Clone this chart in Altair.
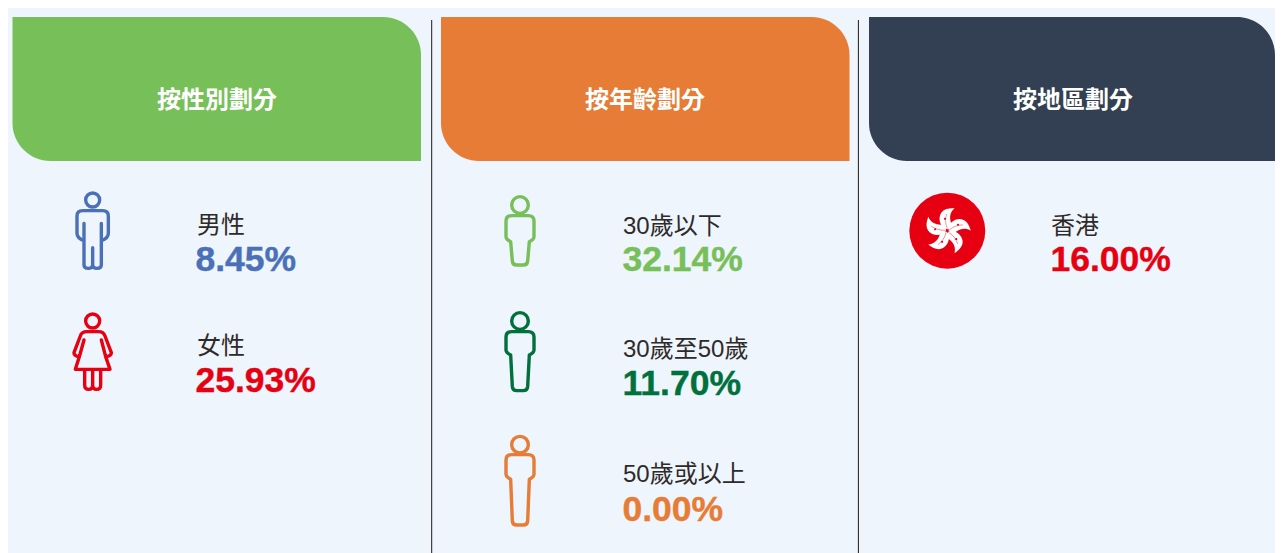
import re
import altair as alt
import pandas as pd

# ---- content ----
headers = ["按性別劃分", "按年齡劃分", "按地區劃分"]
header_colors = ["#77BF59", "#E67C36", "#333F52"]
labels = ["男性", "女性", "30歲以下", "30歲至50歲", "50歲或以上", "香港"]
values = ["8.45%", "25.93%", "32.14%", "11.70%", "0.00%", "16.00%"]
value_colors = ["#4A71B8", "#E60012", "#77BF59", "#00703C", "#E67C36", "#E60012"]

# ---- layout, in window pixels ----
W, H = 1275, 553
header_x = [12.5, 441, 869]
header_x2 = [421, 849.5, 1275]
header_y, header_y2 = 17, 161
header_mid = [217, 645, 1073]
header_base = 108
divider_x = [431.7, 858.4]
divider_top = 20
label_x = [197, 197, 623, 623, 623, 1051]
label_base = [233, 354, 234, 357, 482, 234]
value_x = [195.5, 195.5, 622.5, 622.5, 622.5, 1050.5]
value_base = [271, 392, 271, 395, 521, 271]

X = alt.Scale(domain=[8, W], range=[0, W - 8], nice=False, zero=False)
Y = alt.Scale(domain=[H, 8], range=[H - 8, 0], nice=False, zero=False)


def ex(f="x"):
    return alt.X(f"{f}:Q", scale=X, axis=None)


def ey(f="y"):
    return alt.Y(f"{f}:Q", scale=Y, axis=None)


# Symbol paths: drawn in 3x pixel units about a reference point.
SIZE = 200


def norm(path, cx=0, cy=0):
    i = [0]

    def rep(m):
        v = float(m.group(0)) - (cx if i[0] % 2 == 0 else cy)
        i[0] += 1
        return f"{v / 3 / (SIZE / 2):.5f}"

    return re.sub(r"-?\d+\.?\d*", rep, path)


def ring(cx, cy, r):
    k = 0.5523 * r
    return (
        f"M{cx - r} {cy} C{cx - r} {cy - k} {cx - k} {cy - r} {cx} {cy - r} "
        f"C{cx + k} {cy - r} {cx + r} {cy - k} {cx + r} {cy} "
        f"C{cx + r} {cy + k} {cx + k} {cy + r} {cx} {cy + r} "
        f"C{cx - k} {cy + r} {cx - r} {cy + k} {cx - r} {cy} Z "
    )


def person(cx, head_y, r, top, hem, bottom):
    return ring(cx, head_y, r) + (
        f"M{cx - 25} {top} L{cx + 25} {top} Q{cx + 42} {top} {cx + 42} {top + 16} "
        f"L{cx + 42} {hem - 15} Q{cx + 42} {hem - 7} {cx + 28} {hem} "
        f"L{cx + 23} {bottom - 12} Q{cx + 22} {bottom} {cx + 10} {bottom} "
        f"L{cx - 10} {bottom} Q{cx - 22} {bottom} {cx - 23} {bottom - 12} "
        f"L{cx - 28} {hem} Q{cx - 42} {hem - 7} {cx - 42} {hem - 15} "
        f"L{cx - 42} {top + 16} Q{cx - 42} {top} {cx - 25} {top} Z"
    )


man = ring(128, 60, 21) + (
    "M102 130 L102 255 Q102 265 115 265 Q128 265 128 255 L128 203 "
    "L128 255 Q128 265 141 265 Q154 265 154 255 L154 130 "
    "M154 182 Q175 175 175 160 L175 108 Q175 92 158 92 L98 92 Q81 92 81 108 "
    "L81 160 Q81 175 102 182"
)
woman = ring(128, 423, 21) + (
    "M102 480 L88 530 L76 568 L180 568 L167 530 L154 480 "
    "M88 530 Q72 528 72 518 L91 468 Q95 455 110 455 L146 455 Q160 455 165 468 "
    "L184 518 Q184 528 167 530 "
    "M104 568 L104 615 Q104 628 116 628 Q128 628 128 615 L128 568 "
    "M128 615 Q128 628 140 628 Q152 628 152 615 L152 568"
)

icons = pd.DataFrame(
    {
        "x": [50 + 128 / 3, 50 + 128 / 3, 490 + 90 / 3, 490 + 90 / 3, 490 + 90 / 3],
        "y": [180 + 150 / 3, 180 + 510 / 3, 185 + 135 / 3, 185 + 500 / 3, 420 + 180 / 3],
        "path": [
            norm(man, 128, 150),
            norm(woman, 128, 510),
            norm(person(90, 60, 25, 92, 170, 240), 90, 135),
            norm(person(90, 408, 25, 440, 510, 617), 90, 500),
            norm(person(90, 74, 25, 104, 178, 315), 90, 180),
        ],
        "color": value_colors[:5],
    }
)

flag_x, flag_y, flag_r = 947.3, 230.7, 38
petal = norm(
    "M0 -4 C-22 -8 -30 -38 -17 -55 C-8 -66 8 -68 22 -67 "
    "C8 -56 6 -40 11 -24 C13 -14 8 -6 0 -4 Z"
)
vein = norm("M0 -6 C-6 -20 -7 -34 -2 -50")
star = norm(ring(-7, -36, 3.2))
petals = pd.DataFrame(
    {"x": [flag_x] * 5, "y": [flag_y] * 5, "angle": [0, 72, 144, 216, 288]}
)

headers_df = pd.DataFrame(
    {
        "x": header_x,
        "x2": header_x2,
        "y": [header_y] * 3,
        "y2": [header_y2] * 3,
        "mid": header_mid,
        "base": [header_base] * 3,
        "text": headers,
        "color": header_colors,
    }
)
dividers = pd.DataFrame({"x": divider_x, "y": [divider_top] * 2, "y2": [H] * 2})
labels_df = pd.DataFrame({"x": label_x, "y": label_base, "text": labels})
values_df = pd.DataFrame(
    {"x": value_x, "y": value_base, "text": values, "color": value_colors}
)

NO_COLOR = alt.Color("color:N", scale=None)

rects = (
    alt.Chart(headers_df)
    .mark_rect(cornerRadiusTopRight=38, cornerRadiusBottomLeft=38)
    .encode(x=ex(), x2="x2:Q", y=ey(), y2="y2:Q", color=NO_COLOR)
)
rules = (
    alt.Chart(dividers)
    .mark_rule(color="#231815", strokeWidth=1)
    .encode(x=ex(), y=ey(), y2="y2:Q")
)
header_text = (
    alt.Chart(headers_df)
    .mark_text(
        font="Noto Sans CJK TC",
        fontWeight="bold",
        fontSize=24,
        color="white",
        align="center",
        baseline="alphabetic",
    )
    .encode(x=ex("mid"), y=ey("base"), text="text:N")
)
icon_marks = (
    alt.Chart(icons)
    .mark_point(filled=False, strokeWidth=3.4, opacity=1, strokeJoin="round", strokeCap="round")
    .encode(
        x=ex(),
        y=ey(),
        shape=alt.Shape("path:N", scale=None),
        color=NO_COLOR,
        size=alt.value(SIZE * SIZE),
    )
)
flag = (
    alt.Chart(pd.DataFrame({"x": [flag_x], "y": [flag_y]}))
    .mark_point(filled=True, shape="circle", color="#E60012", opacity=1)
    .encode(x=ex(), y=ey(), size=alt.value((2 * flag_r) ** 2))
)
petal_base = alt.Chart(petals).encode(
    x=ex(),
    y=ey(),
    angle=alt.Angle("angle:Q", scale=None),
    size=alt.value(SIZE * SIZE),
)
flag_petals = petal_base.mark_point(filled=True, shape=petal, color="white", opacity=1)
flag_veins = petal_base.mark_point(
    filled=False, shape=vein, color="#E60012", strokeWidth=0.4, opacity=1
)
flag_stars = petal_base.mark_point(filled=True, shape=star, color="#E60012", opacity=1)
label_text = (
    alt.Chart(labels_df)
    .mark_text(
        font="Liberation Sans, Noto Sans CJK TC",
        fontSize=24,
        color="#2E2A29",
        align="left",
        baseline="alphabetic",
    )
    .encode(x=ex(), y=ey(), text="text:N")
)
value_text = (
    alt.Chart(values_df)
    .mark_text(
        font="Liberation Sans",
        fontWeight="bold",
        fontSize=35.5,
        strokeWidth=0.4,
        align="left",
        baseline="alphabetic",
    )
    .encode(
        x=ex(),
        y=ey(),
        text="text:N",
        color=NO_COLOR,
        stroke=alt.Stroke("color:N", scale=None),
    )
)

chart = (
    alt.layer(
        rects, rules, header_text, icon_marks, flag, flag_petals, flag_veins, flag_stars,
        label_text, value_text,
    )
    .properties(
        width=W - 8,
        height=H - 8,
        background="#EEF5FC",
        padding=0,
        autosize=alt.AutoSizeParams(type="none"),
    )
    .configure_view(stroke=None)
)

chart.save("out.html", embed_options={"renderer": "svg", "actions": False})
